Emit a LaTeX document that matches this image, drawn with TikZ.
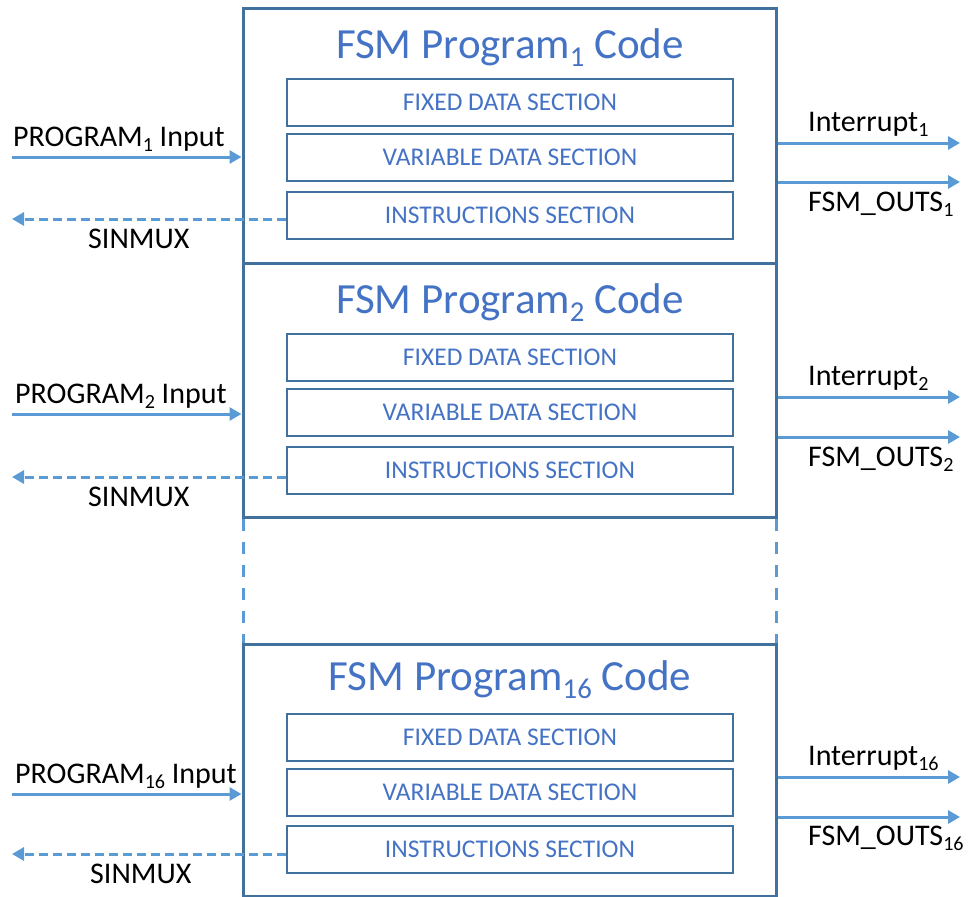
\documentclass[tikz,border=0pt]{standalone}
\usepackage{fontspec}
\setmainfont{Carlito}
\usepackage{graphicx}
\usetikzlibrary{arrows.meta,positioning}

\definecolor{frameblue}{HTML}{41719C}
\definecolor{textblue}{HTML}{4472C4}
\definecolor{linkblue}{HTML}{5B9BD5}

\newcommand\subs[1]{\raisebox{-0.19em}{\scalebox{0.67}{#1}}}

\begin{document}
\begin{tikzpicture}
  [x=1pt,y=-1pt,>={Triangle[length=12pt,width=13pt]},
   program/.style={rectangle,draw=frameblue,line width=3pt,minimum width=533pt,
     minimum height=255pt,inner sep=0pt},
   title/.style={text=textblue,font=\fontsize{43}{43}\selectfont,anchor=base,inner sep=0pt},
   section/.style={rectangle,draw=frameblue,line width=2pt,minimum width=446pt,
     minimum height=47pt,text=textblue,font=\fontsize{25.5}{25.5}\selectfont,inner sep=0pt},
   signal/.style={font=\fontsize{30}{30}\selectfont,anchor=base west,inner sep=0pt},
   wire/.style={draw=linkblue,line width=3pt,->},
   back wire/.style={wire,dash pattern=on 9pt off 5pt},
   gap/.style={draw=linkblue,line width=3pt,dash pattern=on 12pt off 11pt}]

  \useasboundingbox (0,0) rectangle (970,897);

  % First program
  \node [program] (p1) at (509.5,135.5) {};
  \node [title]   (t1) at (510,58) {FSM Program\subs{1} Code};
  \node [section] (f1) at (510,102.5)   {FIXED DATA SECTION};
  \node [section] (v1) [below=6pt of f1] {VARIABLE DATA SECTION};
  \node [section] (i1) [below=9pt of v1] {INSTRUCTIONS SECTION};

  \coordinate (in1)  at (12,157);
  \coordinate (sm1)  at (12,219);
  \coordinate (irq1) at (960,143);
  \coordinate (out1) at (960,182);
  \draw [wire]      (in1) -- (in1 -| p1.west);
  \draw [back wire] (sm1 -| i1.west) -- (sm1);
  \draw [wire]      (irq1 -| p1.east) -- (irq1);
  \draw [wire]      (out1 -| p1.east) -- (out1);
  \node [signal] (l1) at (13,146)  {PROGRAM\subs{1} Input};
  \node [signal] (s1) at (88,248)  {SINMUX};
  \node [signal] (r1) at (808,131) {Interrupt\subs{1}};
  \node [signal] (o1) at (808,211) {FSM\_OUTS\subs{1}};

  \begin{scope}[yshift=-255pt]
    % Second program
    \node [program] (p2) at (509.5,135) [minimum height=254pt] {};
    \node [title]   (t2) at (510,58) {FSM Program\subs{2} Code};
    \node [section] (f2) at (510,102.5)   {FIXED DATA SECTION};
    \node [section] (v2) [below=6pt of f2] {VARIABLE DATA SECTION};
    \node [section] (i2) [below=9pt of v2] {INSTRUCTIONS SECTION};

    \coordinate (in2)  at (12,159);
    \coordinate (sm2)  at (12,222);
    \coordinate (irq2) at (960,142);
    \coordinate (out2) at (960,182);
    \draw [wire]      (in2) -- (in2 -| p2.west);
    \draw [back wire] (sm2 -| i2.west) -- (sm2);
    \draw [wire]      (irq2 -| p2.east) -- (irq2);
    \draw [wire]      (out2 -| p2.east) -- (out2);
    \node [signal] (l2) at (15,148)  {PROGRAM\subs{2} Input};
    \node [signal] (s2) at (88,251)  {SINMUX};
    \node [signal] (r2) at (808,130) {Interrupt\subs{2}};
    \node [signal] (o2) at (808,211) {FSM\_OUTS\subs{2}};
  \end{scope}

  \begin{scope}[yshift=-636pt]
    % Last program
    \node [program] (p3) at (509.5,134) [minimum height=252pt] {};
    \node [title]   (t3) at (510,54) {FSM Program\subs{16} Code};
    \node [section] (f3) at (510,101.5)   {FIXED DATA SECTION};
    \node [section] (v3) [below=6pt of f3] {VARIABLE DATA SECTION};
    \node [section] (i3) [below=8pt of v3] {INSTRUCTIONS SECTION};

    \coordinate (in3)  at (12,158);
    \coordinate (sm3)  at (12,218);
    \coordinate (irq3) at (960,141);
    \coordinate (out3) at (960,181);
    \draw [wire]      (in3) -- (in3 -| p3.west);
    \draw [back wire] (sm3 -| i3.west) -- (sm3);
    \draw [wire]      (irq3 -| p3.east) -- (irq3);
    \draw [wire]      (out3 -| p3.east) -- (out3);
    \node [signal] (l3) at (15,147)  {PROGRAM\subs{16} Input};
    \node [signal] (s3) at (90,247)  {SINMUX};
    \node [signal] (r3) at (808,129) {Interrupt\subs{16}};
    \node [signal] (o3) at (808,209) {FSM\_OUTS\subs{16}};
  \end{scope}

  % gap between program 2 and program 16
  \draw [gap] ([xshift=1.5pt]p2.south west) -- ([xshift=1.5pt]p3.north west);
  \draw [gap] ([xshift=-1.5pt]p2.south east) -- ([xshift=-1.5pt]p3.north east);

\end{tikzpicture}
\end{document}
